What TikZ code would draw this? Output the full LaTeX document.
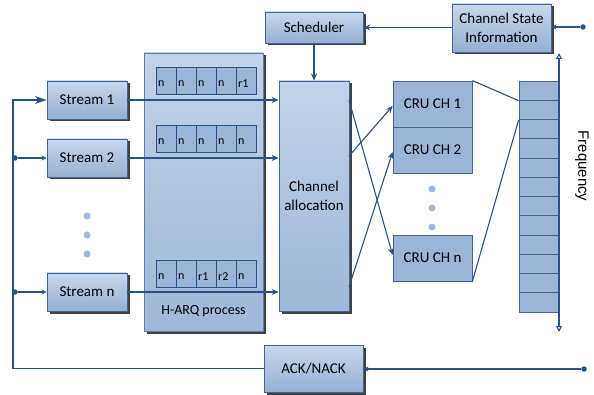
\documentclass[tikz,border=0pt]{standalone}
\usepackage{fontspec}
\setmainfont{Carlito}
\newfontfamily\freqfont{Liberation Sans}
\usetikzlibrary{shadows,arrows.meta,calc}
\definecolor{lnc}{HTML}{2A5289}
\definecolor{bdc}{HTML}{41679A}
\definecolor{gtop}{HTML}{C9D7EA}
\definecolor{gbot}{HTML}{95AFD2}
\definecolor{htop}{HTML}{C3D2E7}
\definecolor{hbot}{HTML}{9FB7D7}
\definecolor{flat}{HTML}{9CB4D6}
\definecolor{dotc}{HTML}{9FB8D9}
\begin{document}
\begin{tikzpicture}[x=1pt,y=-1pt,
  gbox/.style={draw=bdc, line width=0.8pt, top color=gtop, bottom color=gbot, inner sep=0pt,
    drop shadow={shadow xshift=2.5pt, shadow yshift=-2.5pt, fill=black!75, opacity=1},
    font=\fontsize{15}{18}\selectfont, align=center},
  fbox/.style={draw=bdc, line width=0.8pt, fill=flat, inner sep=0pt, font=\fontsize{15}{18}\selectfont},
  cell/.style={draw=lnc, line width=0.7pt, fill=flat, inner sep=0pt, minimum width=20pt, minimum height=27pt},
  ctxt/.style={font=\fontsize{12}{14}\selectfont, inner sep=0pt, anchor=west},
  ln/.style={draw=lnc, line width=1.1pt},
  arr/.style={ln, -{Stealth[length=7pt,width=6pt]}},
  sarr/.style={ln, -{Stealth[length=5pt,width=5pt]}},
  jdot/.style={circle, fill=lnc, inner sep=0pt, minimum size=5.5pt},
  gdot/.style={circle, fill=dotc, inner sep=0pt, minimum size=7pt}]
\useasboundingbox (0,0) rectangle (594,395);

% H-ARQ big box
\node[gbox, draw=bdc!85, top color=htop, bottom color=hbot, minimum width=119pt, minimum height=278pt] (harq) at (203.5,192) {};
\node[font=\fontsize{14}{16}\selectfont, inner sep=0pt] (harql) at (203.5,311) {H-ARQ process};

% cells
\foreach \r/\yy/\a/\b/\c/\d/\e in {1/80.5/n/n/n/n/r1, 2/138.5/n/n/n/n/n, 3/273.5/n/n/r1/r2/n}{
  \foreach \i/\t in {0/\a,1/\b,2/\c,3/\d,4/\e}{
    \node[cell] (c\r\i) at ({166+20*\i},\yy) {};
    \node[ctxt] (t\r\i) at ({158+20*\i},{\yy+3}) {\t};
  }
}

% stream boxes
\node[gbox, minimum width=80pt, minimum height=38pt] (s1) at (87,100) {Stream 1};
\node[gbox, minimum width=80pt, minimum height=38pt] (s2) at (87,158) {Stream 2};
\node[gbox, minimum width=80pt, minimum height=38pt] (sn) at (87,292) {Stream n};

% scheduler, CSI, allocation, ack
\node[gbox, minimum width=98pt, minimum height=31pt] (sch) at (314,27.5) {Scheduler};
\node[gbox, minimum width=99pt, minimum height=48pt, font=\fontsize{15}{19}\selectfont] (csi) at (501.5,28) {Channel State\\Information};
\node[gbox, top color=htop, bottom color=hbot, minimum width=70pt, minimum height=230pt, font=\fontsize{15}{19}\selectfont] (alloc) at (314,196) {Channel\\allocation};
\node[gbox, minimum width=99pt, minimum height=47pt] (ack) at (313.5,368.5) {ACK/NACK};

% CRU boxes
\node[fbox, minimum width=79pt, minimum height=46pt] (ch1) at (432.5,104) {CRU CH 1};
\node[fbox, minimum width=79pt, minimum height=46pt] (ch2) at (432.5,150) {CRU CH 2};
\node[fbox, minimum width=79pt, minimum height=46pt] (chn) at (432.5,258) {CRU CH n};

% frequency bar
\foreach \k in {0,...,11}{
  \node[draw=bdc, line width=0.8pt, fill=flat, inner sep=0pt, minimum width=40pt, minimum height=19.25pt] (f\k) at (539,{81+19.25*\k+9.625}) {};
}
\coordinate (ftop) at (559,53);
\coordinate (fbot) at (559,332);
\draw[ln, {Triangle[open,length=6pt,width=6pt]}-{Triangle[open,length=6pt,width=6pt]}] (ftop) -- (fbot);
\node[font=\freqfont\fontsize{15}{18}\selectfont, rotate=-90, inner sep=0pt] (freq) at (582,166) {Frequency};

% gray dots
\foreach \yy [count=\q] in {216,235,254}{ \node[gdot] (ld\q) at (87,\yy) {}; }
\foreach \yy [count=\q] in {189,208,227}{ \node[gdot] (rd\q) at (432,\yy) {}; }

% stream arrows
\draw[arr] (s1.east) -- (s1.east -| alloc.west);
\draw[arr] (s2.east) -- (s2.east -| alloc.west);
\draw[arr] (sn.east) -- (sn.east -| alloc.west);

% feedback loop
\coordinate (lt) at (13,100);
\draw[ln, -{Stealth[length=12pt,width=8pt]}] (ack.west) -- (ack.west -| lt) -- (lt) -- (s1.west);
\node[jdot] (j2) at (15,158) {};
\node[jdot] (j3) at (15,292) {};
\draw[sarr] (j2) -- (s2.west);
\draw[sarr] (j3) -- (sn.west);

% right side inputs
\node[jdot] (jc) at (583,27) {};
\node[jdot] (ja) at (584,369) {};
\draw[sarr] (jc) -- (csi.east |- jc);
\draw[sarr] (ja) -- (ack.east |- ja);
\draw[arr] (csi.west |- sch.east) -- (sch.east);
\draw[arr] (sch.south) -- (alloc.north);

% allocation to CRUs
\coordinate (a1) at (349,100);
\coordinate (a2) at (349,156);
\coordinate (a3) at (349,287);
\draw[arr] (a1) -- ($(chn.west)+(0,-3)$);
\draw[arr] (a2) -- ($(ch1.west)+(0,2)$);
\draw[arr] (a3) -- ($(ch2.west)+(0,2)$);

% CRU to frequency bar
\draw[ln] (ch1.north east) -- (f0.south west);
\draw[ln] (chn.south east) -- (f1.south west);
\end{tikzpicture}
\end{document}
